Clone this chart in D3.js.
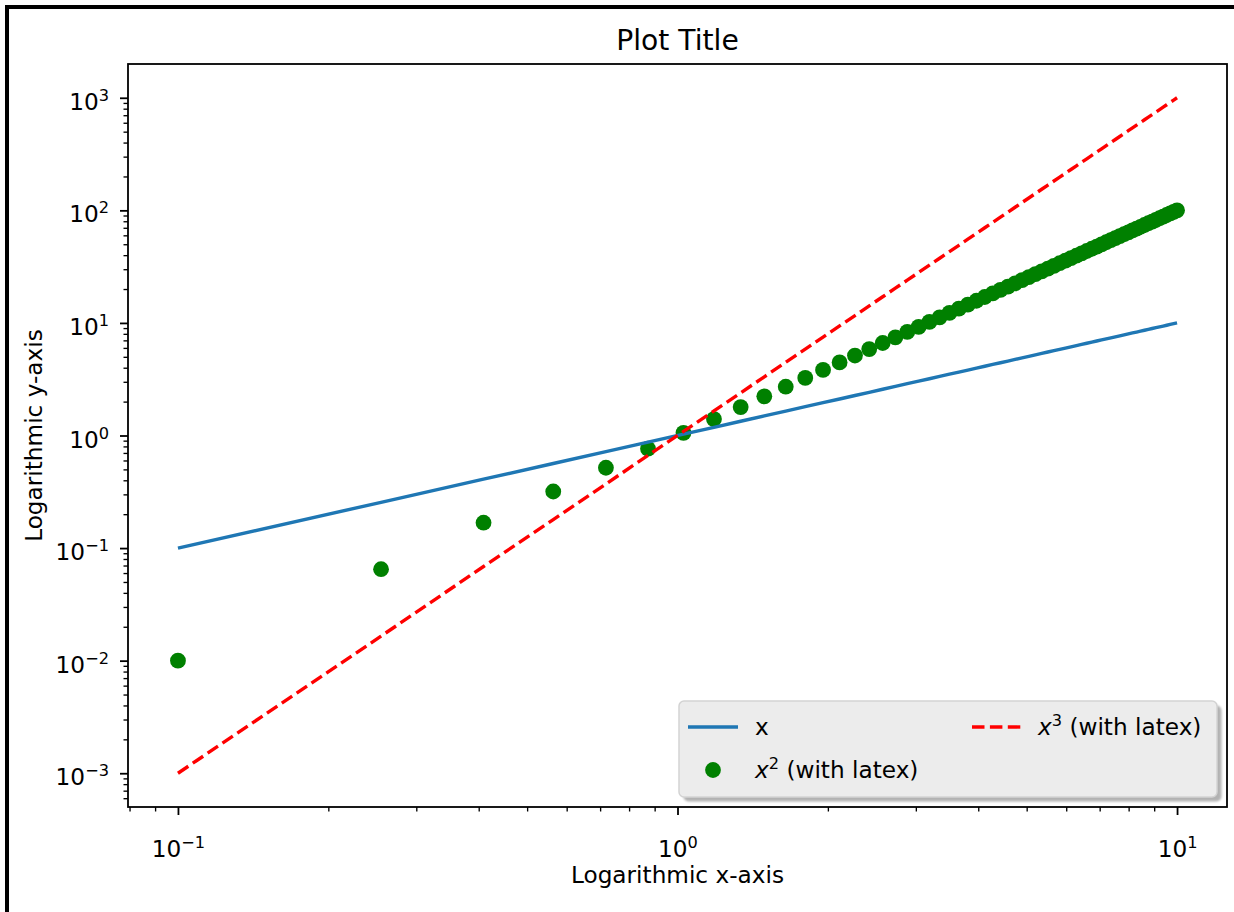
<!DOCTYPE html>
<html>
<head>
<meta charset="UTF-8">
<title>Plot Title</title>
<script src="https://cdnjs.cloudflare.com/ajax/libs/d3/7.8.5/d3.min.js"></script>
<style>
body { margin: 0; background: #fff; }
svg { display: block; font-family: 'DejaVu Sans', sans-serif; }
</style>
</head>
<body>
<script>
/*global d3 */
// sample positions (65 evenly spaced points 0.1 .. 10)
var xValues = [0.1, 0.255, 0.409, 0.564, 0.719, 0.873, 1.028, 1.183, 1.338, 1.492,
  1.647, 1.802, 1.956, 2.111, 2.266, 2.420, 2.575, 2.730, 2.884, 3.039,
  3.194, 3.348, 3.503, 3.658, 3.813, 3.967, 4.122, 4.277, 4.431, 4.586,
  4.741, 4.895, 5.05, 5.205, 5.359, 5.514, 5.669, 5.823, 5.978, 6.133,
  6.288, 6.442, 6.597, 6.752, 6.906, 7.061, 7.216, 7.370, 7.525, 7.680,
  7.834, 7.989, 8.144, 8.298, 8.453, 8.608, 8.763, 8.917, 9.072, 9.227,
  9.381, 9.536, 9.691, 9.845, 10.0];

// series "x"
var linearValues = [0.1, 0.255, 0.409, 0.564, 0.719, 0.873, 1.028, 1.183, 1.338, 1.492,
  1.647, 1.802, 1.956, 2.111, 2.266, 2.420, 2.575, 2.730, 2.884, 3.039,
  3.194, 3.348, 3.503, 3.658, 3.813, 3.967, 4.122, 4.277, 4.431, 4.586,
  4.741, 4.895, 5.05, 5.205, 5.359, 5.514, 5.669, 5.823, 5.978, 6.133,
  6.288, 6.442, 6.597, 6.752, 6.906, 7.061, 7.216, 7.370, 7.525, 7.680,
  7.834, 7.989, 8.144, 8.298, 8.453, 8.608, 8.763, 8.917, 9.072, 9.227,
  9.381, 9.536, 9.691, 9.845, 10.0];

// series "x^2" (scatter)
var squareValues = [0.01, 0.0649, 0.168, 0.318, 0.517, 0.763, 1.057, 1.399, 1.789, 2.227,
  2.712, 3.246, 3.827, 4.456, 5.133, 5.858, 6.631, 7.451, 8.320, 9.236,
  10.20, 11.21, 12.27, 13.38, 14.54, 15.74, 16.99, 18.29, 19.64, 21.03,
  22.47, 23.96, 25.50, 27.09, 28.72, 30.41, 32.14, 33.91, 35.74, 37.61,
  39.53, 41.50, 43.52, 45.58, 47.70, 49.86, 52.07, 54.32, 56.63, 58.98,
  61.38, 63.83, 66.32, 68.87, 71.46, 74.10, 76.78, 79.52, 82.30, 85.13,
  88.01, 90.93, 93.91, 96.93, 100.0];

// series "x^3" (dashed)
var cubeValues = [0.001, 0.0165, 0.0686, 0.179, 0.371, 0.666, 1.087, 1.655, 2.393, 3.323,
  4.467, 5.847, 7.486, 9.406, 11.63, 14.18, 17.07, 20.34, 24.00, 28.07,
  32.58, 37.54, 42.99, 48.94, 55.42, 62.44, 70.03, 78.21, 87.01, 96.45,
  106.5, 117.3, 128.8, 141.0, 153.9, 167.7, 182.2, 197.5, 213.6, 230.7,
  248.6, 267.4, 287.1, 307.8, 329.4, 352.0, 375.7, 400.4, 426.1, 452.9,
  480.9, 509.9, 540.1, 571.5, 604.0, 637.8, 672.8, 709.1, 746.6, 785.5,
  825.6, 867.1, 910.0, 954.3, 1000.0];

var xMajorTicks = [0.1, 1, 10];
var xTickExps = ["\u22121", "0", "1"];
var yMajorTicks = [0.001, 0.01, 0.1, 1, 10, 100, 1000];
var yTickExps = ["\u22123", "\u22122", "\u22121", "0", "1", "2", "3"];

var W = 1234, H = 912;
var axL = 128, axR = 1227, axT = 64, axB = 807;
var fs = 23.2, supFs = 16.2;

var svg = d3.select("body").append("svg")
    .attr("width", W)
    .attr("height", H);

// outer frame (only top and left edges show in the picture)
svg.append("rect").attr("x", 0).attr("y", 0).attr("width", W).attr("height", H).attr("fill", "#fff");
svg.append("line").attr("x1", 5).attr("x2", W).attr("y1", 7).attr("y2", 7)
    .attr("stroke", "#000").attr("stroke-width", 4);
svg.append("line").attr("x1", 7).attr("x2", 7).attr("y1", 5).attr("y2", H)
    .attr("stroke", "#000").attr("stroke-width", 4);

// log domains with 5% margin like matplotlib
function logPad(vals) {
    var e = d3.extent(vals);
    var span = Math.log10(e[1]) - Math.log10(e[0]);
    return [e[0] / Math.pow(10, span * 0.05), e[1] * Math.pow(10, span * 0.05)];
}
var x = d3.scaleLog().domain(logPad(xValues)).range([axL, axR]);
var y = d3.scaleLog().domain(logPad(cubeValues.concat(squareValues))).range([axB, axT]);

function isMajor(v) {
    var l = Math.log10(v);
    return Math.abs(l - Math.round(l)) < 1e-9;
}

// minor ticks
svg.append("g")
    .attr("transform", "translate(0," + axB + ")")
    .call(d3.axisBottom(x).tickValues(x.ticks().filter(function(v) { return !isMajor(v); }))
        .tickSize(4.5).tickSizeOuter(0).tickFormat(""))
    .call(function(g) { g.select(".domain").remove(); })
    .selectAll("line").attr("stroke", "#000").attr("stroke-width", 1.35);
svg.append("g")
    .attr("transform", "translate(" + axL + ",0)")
    .call(d3.axisLeft(y).tickValues(y.ticks().filter(function(v) { return !isMajor(v); }))
        .tickSize(4.5).tickSizeOuter(0).tickFormat(""))
    .call(function(g) { g.select(".domain").remove(); })
    .selectAll("line").attr("stroke", "#000").attr("stroke-width", 1.35);

// major ticks
var gx = svg.append("g")
    .attr("transform", "translate(0," + axB + ")")
    .call(d3.axisBottom(x).tickValues(xMajorTicks).tickSize(8).tickSizeOuter(0).tickFormat(""));
gx.select(".domain").remove();
gx.selectAll("line").attr("stroke", "#000").attr("stroke-width", 1.8);
gx.selectAll(".tick text").each(function(d, i) {
    var t = d3.select(this)
        .attr("y", 50).attr("dy", null)
        .attr("fill", "#000")
        .style("font-family", "'DejaVu Sans', sans-serif")
        .style("font-size", fs + "px")
        .attr("text-anchor", "middle");
    t.append("tspan").text("10");
    t.append("tspan").attr("dy", -9).style("font-size", supFs + "px").text(xTickExps[i]);
});

var gy = svg.append("g")
    .attr("transform", "translate(" + axL + ",0)")
    .call(d3.axisLeft(y).tickValues(yMajorTicks).tickSize(8).tickSizeOuter(0).tickFormat(""));
gy.select(".domain").remove();
gy.selectAll("line").attr("stroke", "#000").attr("stroke-width", 1.8);
gy.selectAll(".tick text").each(function(d, i) {
    var t = d3.select(this)
        .attr("x", -19).attr("y", 11.5).attr("dy", null)
        .attr("fill", "#000")
        .style("font-family", "'DejaVu Sans', sans-serif")
        .style("font-size", fs + "px")
        .attr("text-anchor", "end");
    t.append("tspan").text("10");
    t.append("tspan").attr("dy", -9).style("font-size", supFs + "px").text(yTickExps[i]);
});

// data
var plot = svg.append("g");

plot.selectAll("circle")
    .data(d3.zip(xValues, squareValues))
    .enter().append("circle")
    .attr("cx", function(d) { return x(d[0]); })
    .attr("cy", function(d) { return y(d[1]); })
    .attr("r", 7.9)
    .attr("fill", "green");

var line = d3.line()
    .x(function(d) { return x(d[0]); })
    .y(function(d) { return y(d[1]); });

plot.append("path")
    .datum(d3.zip(xValues, linearValues))
    .attr("d", line)
    .attr("fill", "none")
    .attr("stroke", "#1f77b4")
    .attr("stroke-width", 3.4);

plot.append("path")
    .datum(d3.zip(xValues, cubeValues))
    .attr("d", line)
    .attr("fill", "none")
    .attr("stroke", "red")
    .attr("stroke-width", 3.4)
    .attr("stroke-dasharray", "12.5,5.4");

// spines
svg.append("rect")
    .attr("x", axL).attr("y", axT)
    .attr("width", axR - axL).attr("height", axB - axT)
    .attr("fill", "none").attr("stroke", "#000").attr("stroke-width", 1.8);

// title and labels
svg.append("text")
    .attr("x", (axL + axR) / 2).attr("y", 50)
    .attr("text-anchor", "middle")
    .style("font-size", "28.2px")
    .text("Plot Title");
svg.append("text")
    .attr("x", (axL + axR) / 2).attr("y", 883)
    .attr("text-anchor", "middle")
    .style("font-size", fs + "px")
    .text("Logarithmic x-axis");
svg.append("text")
    .attr("transform", "translate(42," + (axT + axB) / 2 + ") rotate(-90)")
    .attr("text-anchor", "middle")
    .style("font-size", fs + "px")
    .text("Logarithmic y-axis");

// legend, lower right, two columns
var lg = svg.append("g");
var lx = 679, ly = 701, lw = 538, lh = 96;
var defs = svg.append("defs");
defs.append("filter").attr("id", "blur")
    .append("feGaussianBlur").attr("stdDeviation", 1.2);
lg.append("rect")
    .attr("x", lx + 4.5).attr("y", ly + 4.5).attr("width", lw).attr("height", lh)
    .attr("rx", 5).attr("fill", "#808080").attr("opacity", 0.6)
    .style("filter", "url(#blur)");
lg.append("rect")
    .attr("x", lx).attr("y", ly).attr("width", lw).attr("height", lh)
    .attr("rx", 5).attr("fill", "#ececec").attr("stroke", "#d3d3d3").attr("stroke-width", 1.5);

var row1 = 727, row2 = 770;
lg.append("line").attr("x1", 688).attr("x2", 738).attr("y1", row1).attr("y2", row1)
    .attr("stroke", "#1f77b4").attr("stroke-width", 3.4);
lg.append("text").attr("x", 755).attr("y", row1 + 8).style("font-size", fs + "px").text("x");

lg.append("circle").attr("cx", 713).attr("cy", row2).attr("r", 7.9).attr("fill", "green");
var t2 = lg.append("text").attr("x", 755).attr("y", row2 + 8).style("font-size", fs + "px");
t2.append("tspan").style("font-style", "italic").text("x");
t2.append("tspan").attr("dy", -9).style("font-size", supFs + "px").text("2");
t2.append("tspan").attr("dy", 9).text(" (with latex)");

lg.append("line").attr("x1", 972).attr("x2", 1022).attr("y1", row1).attr("y2", row1)
    .attr("stroke", "red").attr("stroke-width", 3.4).attr("stroke-dasharray", "12.5,5.4");
var t3 = lg.append("text").attr("x", 1038).attr("y", row1 + 8).style("font-size", fs + "px");
t3.append("tspan").style("font-style", "italic").text("x");
t3.append("tspan").attr("dy", -9).style("font-size", supFs + "px").text("3");
t3.append("tspan").attr("dy", 9).text(" (with latex)");
</script>
</body>
</html>
